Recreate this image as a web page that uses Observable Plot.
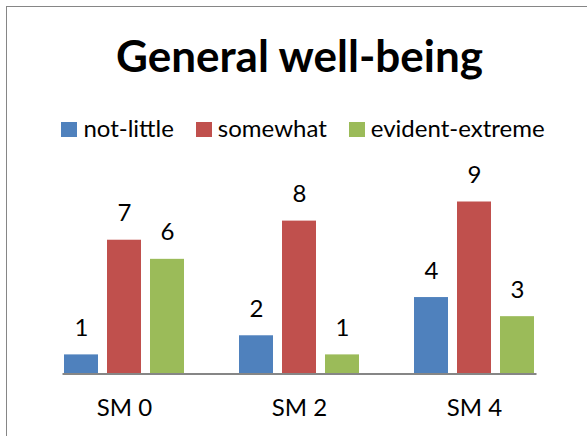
<!DOCTYPE html>
<html><head><meta charset="utf-8">
<script src="https://cdn.jsdelivr.net/npm/d3@7"></script>
<script src="https://cdn.jsdelivr.net/npm/@observablehq/plot@0.6"></script>
<style>
html,body{margin:0;padding:0;background:#fff;overflow:hidden;width:587px;height:436px;position:relative}
#frame{position:absolute;left:6px;top:6px;width:620px;height:460px;border:1px solid #868686;box-sizing:border-box}
#title{position:absolute;left:6px;width:587px;top:29px;text-align:center;font-family:Lato;font-weight:bold;font-size:44px;line-height:normal;color:#000;white-space:nowrap}
#legend{position:absolute;left:0;width:606px;top:113px;display:flex;justify-content:center;align-items:baseline;font-family:Lato;font-size:24px;line-height:normal;color:#000;white-space:nowrap}
.item{display:flex;align-items:baseline;margin:0 11px}
.sw{display:inline-block;width:16px;height:15px;margin-right:6px}
#chart{position:absolute;left:0;top:150px}
</style></head>
<body>
<div id="frame"></div>
<div id="title">General well-being</div>
<div id="legend"></div>
<div id="chart"></div>
<script>
const categories = ["SM 0", "SM 2", "SM 4"];
const series = ["not-little", "somewhat", "evident-extreme"];
const notLittle = [1, 2, 4];
const somewhat = [7, 8, 9];
const evidentExtreme = [6, 1, 3];
const colors = ["#4F81BD", "#C0504D", "#9BBB59"];

const values = [notLittle, somewhat, evidentExtreme];
const rows = [];
categories.forEach((cat, i) => {
  series.forEach((s, j) => rows.push({cat, series: s, value: values[j][i]}));
});

const legend = document.getElementById("legend");
series.forEach((s, j) => {
  const item = document.createElement("span");
  item.className = "item";
  const sw = document.createElement("span");
  sw.className = "sw";
  sw.style.background = colors[j];
  item.appendChild(sw);
  item.appendChild(document.createTextNode(s));
  legend.appendChild(item);
});

const chart = Plot.plot({
  width: 587,
  height: 286,
  marginLeft: 36,
  marginRight: 24,
  marginTop: 51.5,
  marginBottom: 62.5,
  fx: {domain: categories, paddingInner: 0.3, paddingOuter: 0.15, label: null},
  x: {domain: series, paddingInner: 0.2, paddingOuter: 0, axis: null},
  y: {domain: [0, 9], axis: null},
  color: {domain: series, range: colors},
  style: {fontFamily: "Lato", fontSize: "24px", background: "transparent", overflow: "visible", color: "#000"},
  marks: [
    Plot.barY(rows, {fx: "cat", x: "series", y: "value", fill: "series"}),
    Plot.text(rows, {fx: "cat", x: "series", y: "value", text: d => String(d.value), lineAnchor: "bottom", dy: -19, fontSize: 24, fill: "#000"}),
    Plot.frame({anchor: "bottom", facet: "super", stroke: "#868686", strokeWidth: 2}),
    Plot.axisFx({anchor: "bottom", tickSize: 0, tickPadding: 24.5, fontSize: 24, label: null})
  ]
});
document.getElementById("chart").appendChild(chart);
</script>
</body></html>
